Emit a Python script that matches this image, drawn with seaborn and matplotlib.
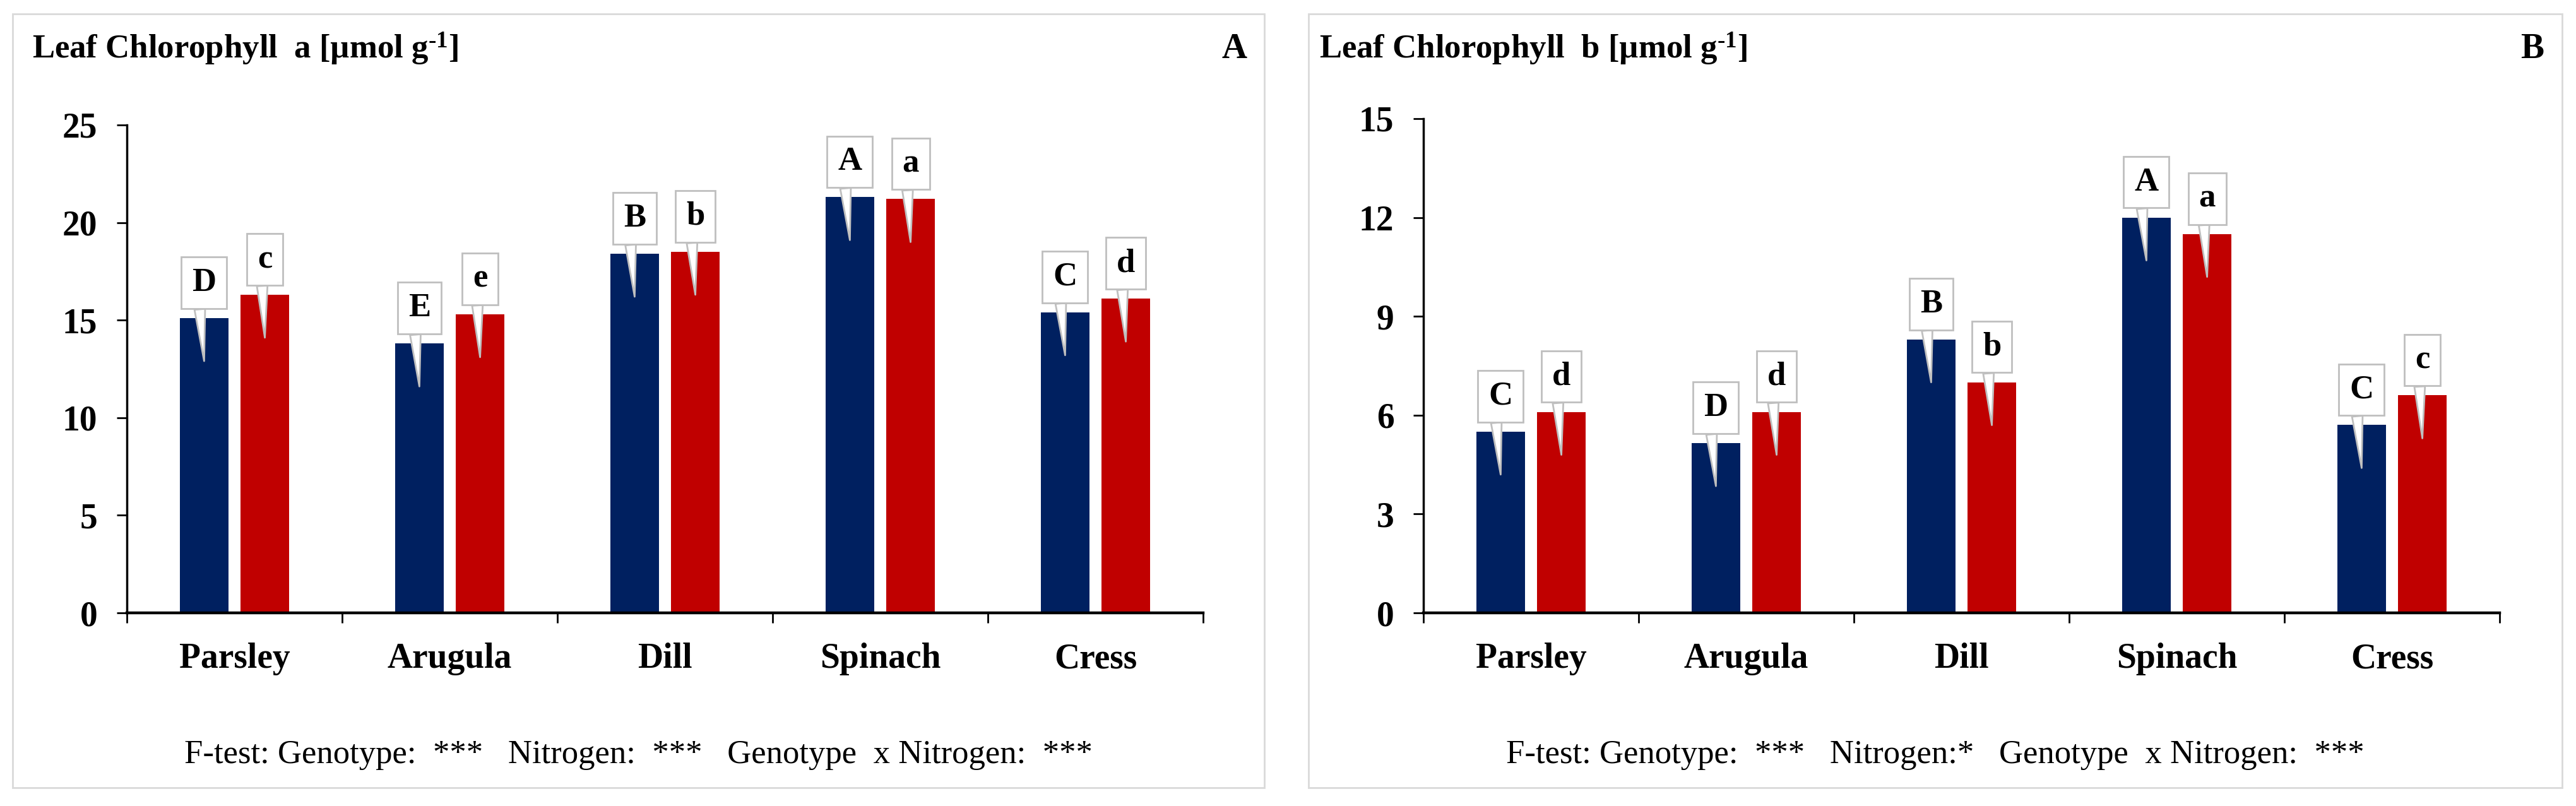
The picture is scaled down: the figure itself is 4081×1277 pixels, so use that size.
import numpy as np
import pandas as pd
import matplotlib
matplotlib.use('Agg')
import matplotlib.pyplot as plt
import matplotlib.transforms as mtransforms
from matplotlib.patches import Rectangle
import seaborn as sns

# data
crops = ['Parsley', 'Arugula', 'Dill', 'Spinach', 'Cress']
treatments = ['N1', 'N2']

chl_a_n1 = [15.1, 13.8, 18.4, 21.3, 15.4]
chl_a_n2 = [16.3, 15.3, 18.5, 21.2, 16.1]
chl_a_letters_n1 = ['D', 'E', 'B', 'A', 'C']
chl_a_letters_n2 = ['c', 'e', 'b', 'a', 'd']

chl_b_n1 = [5.5, 5.15, 8.3, 12.0, 5.7]
chl_b_n2 = [6.1, 6.1, 7.0, 11.5, 6.6]
chl_b_letters_n1 = ['C', 'D', 'B', 'A', 'C']
chl_b_letters_n2 = ['d', 'd', 'b', 'a', 'c']

titles = ['Leaf Chlorophyll  a [µmol g$^{\u2010 1}$]', 'Leaf Chlorophyll  b [µmol g$^{\u2010 1}$]']
panel_tags = ['A', 'B']
ftests = ['F-test: Genotype:  ***   Nitrogen:  ***   Genotype  x Nitrogen:  ***',
          'F-test: Genotype:  ***   Nitrogen:*   Genotype  x Nitrogen:  ***']

colors = ['#002060', '#C00000']
frame_col = '#d9d9d9'
callout_col = '#bfbfbf'

plt.rcParams['font.family'] = ['Liberation Serif', 'DejaVu Serif']
plt.rcParams['font.weight'] = 'bold'
plt.rcParams['mathtext.fontset'] = 'custom'
plt.rcParams['mathtext.rm'] = 'Liberation Serif:bold'
plt.rcParams['mathtext.default'] = 'rm'

W, H = 4081, 1277
fig = plt.figure(figsize=(W / 100, H / 100), dpi=100)


def fx(px):
    return px / W


def fy(py):
    return 1 - py / H


def draw_panel(rect, n1, n2, let1, let2, ymax, ystep):
    ax = fig.add_axes(rect)
    df = pd.DataFrame({
        'crop': crops * 2,
        'value': n1 + n2,
        'treatment': [treatments[0]] * len(crops) + [treatments[1]] * len(crops),
    })
    sns.barplot(data=df, x='crop', y='value', hue='treatment', palette=colors,
                width=0.564, gap=0.2, legend=False, ax=ax, saturation=1)
    ax.set_xlim(-0.5, len(crops) - 0.5)
    ax.set_ylim(0, ymax)
    ax.set_yticks(np.arange(0, ymax + 0.1, ystep))
    ax.set_xticks(np.arange(-0.5, len(crops), 1), minor=True)
    ax.set_xlabel('')
    ax.set_ylabel('')
    for s in ['top', 'right']:
        ax.spines[s].set_visible(False)
    ax.spines['left'].set_linewidth(2.5)
    ax.spines['bottom'].set_linewidth(3.2)
    ax.tick_params(axis='y', length=11.5, width=2, pad=22, labelsize=40)
    ax.tick_params(axis='x', which='major', length=0, pad=34, labelsize=40)
    ax.tick_params(axis='x', which='minor', length=11.5, width=2)

    # letter callouts: box sits just above the bar, tail points into the bar
    tip = mtransforms.offset_copy(ax.transData, fig=fig, x=0, y=-68, units='dots')
    for cont, letters in zip(ax.containers, [let1, let2]):
        for bar, letter in zip(cont, letters):
            xc = bar.get_x() + bar.get_width() / 2
            ax.annotate(letter, xy=(xc, bar.get_height()), xycoords=tip,
                        xytext=(0, 124), textcoords='offset pixels',
                        ha='center', va='center', fontsize=38, fontweight='bold',
                        bbox=dict(boxstyle='square,pad=0.32', fc='white', ec=callout_col, lw=2),
                        arrowprops=dict(arrowstyle='wedge,tail_width=0.32', fc='white',
                                        ec=callout_col, lw=2, relpos=(0.28, 0),
                                        shrinkA=0, shrinkB=0))
    return ax


ax_a = draw_panel([fx(201), fy(971), fx(1906) - fx(201), (971 - 198) / H],
                  chl_a_n1, chl_a_n2, chl_a_letters_n1, chl_a_letters_n2, 25, 5)
ax_b = draw_panel([fx(2255), fy(971), fx(3960) - fx(2255), (971 - 188) / H],
                  chl_b_n1, chl_b_n2, chl_b_letters_n1, chl_b_letters_n2, 15, 3)

# panel frames, titles, tags and F-test lines
frames = [(20, 2003), (2073, 4059)]
title_x = [51, 2090]
tag_x = [1975, 4030]
for (x0, x1), tx, gx, title, tag, ft in zip(frames, title_x, tag_x, titles, panel_tags, ftests):
    fig.add_artist(Rectangle((fx(x0), fy(1248)), fx(x1) - fx(x0), (1248 - 22) / H,
                             transform=fig.transFigure, fill=False, ec=frame_col, lw=2))
    fig.text(fx(tx), fy(92), title, fontsize=38, fontweight='bold', ha='left', va='baseline')
    fig.text(fx(gx), fy(92), tag, fontsize=40, fontweight='bold', ha='right', va='baseline')
    fig.text(fx((x0 + x1) / 2), fy(1209), ft, fontsize=38, fontweight='normal',
             ha='center', va='baseline')

fig.savefig('out.png', dpi=100, facecolor='white')
